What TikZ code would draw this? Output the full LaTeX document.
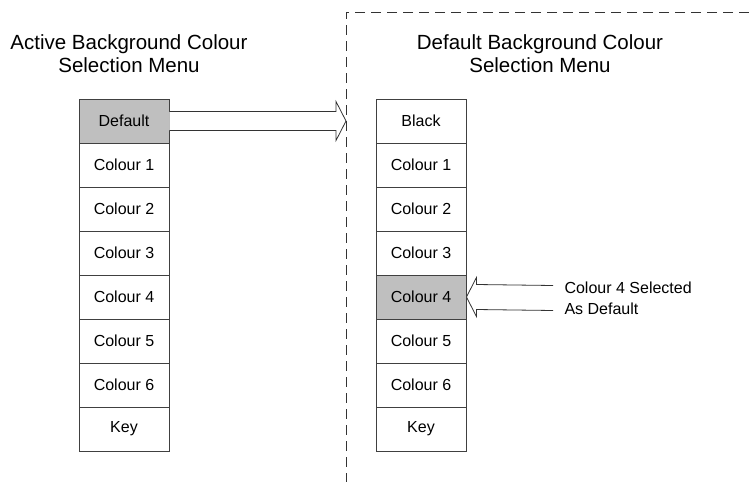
\documentclass[tikz,border=0pt]{standalone}
\usepackage{fontspec}
\setmainfont{Liberation Sans}
\usetikzlibrary{calc}

\begin{document}
\begin{tikzpicture}[x=1pt,y=1pt,
    menu/.style={draw=black!75,line width=0.9pt,minimum width=90pt,minimum height=44pt,
        inner sep=0pt,font=\fontsize{16}{19}\selectfont},
    head/.style={align=center,font=\fontsize{20.5}{23}\selectfont},
    hollow/.style={draw=black!80,fill=white,line width=0.8pt}]
        \useasboundingbox (0,0) rectangle (749,-482);
        % split between the two menus
        \coordinate (split) at (346,-12);
        \draw[black!80,line width=0.8pt,dash pattern=on 10pt off 6pt]
            (749,-12) -- (split) -- (346,-482);
        \node[head] (acthead) at (129,-54) {Active Background Colour\\Selection Menu};
        \node[head] (defhead) at (540,-54) {Default Background Colour\\Selection Menu};
        \foreach \t/\c [count=\i from 0] in {Default/black!25,Colour 1/white,Colour 2/white,
                Colour 3/white,Colour 4/white,Colour 5/white,Colour 6/white,Key/white}
            \node[menu,fill=\c] (act\i) at (124,-121-44*\i) {\t};
        \foreach \t/\c [count=\i from 0] in {Black/white,Colour 1/white,Colour 2/white,
                Colour 3/white,Colour 4/black!25,Colour 5/white,Colour 6/white,Key/white}
            \node[menu,fill=\c] (def\i) at (421,-121-44*\i) {\t};
        % hollow arrow: active default -> default menu
        \coordinate (tip) at (act0.east -| split);
        \draw[hollow] ($(act0.east)+(0,9.5)$) -- ($(tip)+(-10,9.5)$) -- ($(tip)+(-10,19.5)$)
            -- (tip) -- ($(tip)+(-10,-19.5)$) -- ($(tip)+(-10,-9.5)$) -- ($(act0.east)+(0,-9.5)$);
        % note on the chosen colour
        \node[anchor=west,align=left,font=\fontsize{16}{21}\selectfont] (note) at (561,-298)
            {Colour 4 Selected\\As Default};
        \draw[hollow] ($(note.west)+(-8,12.5)$) -- ($(def4.east)+(10,12.5)$) -- ($(def4.east)+(10,19.5)$)
            -- (def4.east) -- ($(def4.east)+(10,-19.5)$) -- ($(def4.east)+(10,-12.5)$)
            -- ($(note.west)+(-8,-12.5)$);
    \end{tikzpicture}
\end{document}
